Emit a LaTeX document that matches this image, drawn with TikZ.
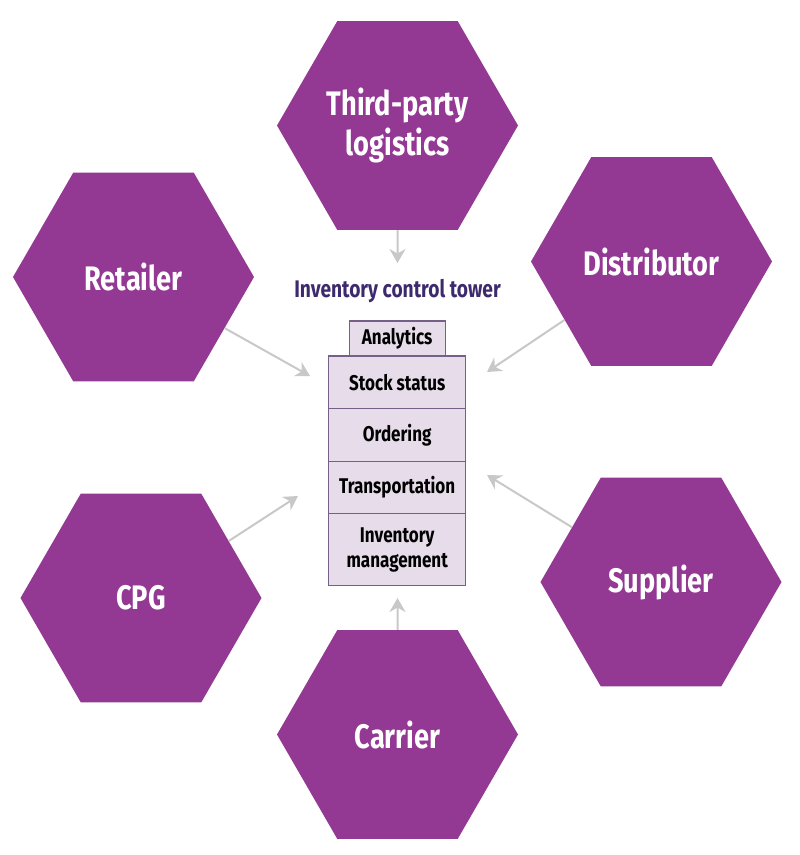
\documentclass[tikz,border=0pt]{standalone}
\usepackage{fontspec}
\setmainfont{Fira Sans}[FakeStretch=0.8]
\usetikzlibrary{shapes.geometric,arrows.meta}
\definecolor{hexfill}{HTML}{933893}
\definecolor{boxfill}{HTML}{E7DDEA}
\definecolor{boxline}{HTML}{76608A}
\definecolor{arrgray}{HTML}{C8C8C8}
\definecolor{titlecol}{HTML}{3D2A6E}
\begin{document}
\begin{tikzpicture}[x=1pt,y=-1pt,
  hexnode/.style={regular polygon, regular polygon sides=6, minimum size=241pt, inner sep=0pt,
    fill=hexfill, draw=none, text=white, align=center,
    font=\fontsize{34}{40}\selectfont\bfseries},
  towerbox/.style={rectangle, draw=boxline, line width=1.1pt, fill=boxfill, inner sep=0pt,
    minimum width=137pt, align=center, font=\fontsize{21.3}{25}\selectfont\bfseries},
  arr/.style={draw=arrgray, line width=2pt, -{Stealth[length=14pt,width=16pt]}, color=arrgray}
]
\useasboundingbox (0,0) rectangle (800,855);

% hexagons
\node[hexnode] (tpl) at (397.5,125.5) {Third-party\\logistics};
\node[hexnode] (ret) at (133.5,277) {Retailer};
\node[hexnode] (dis) at (651.5,261.5) {Distributor};
\node[hexnode] (cpg) at (141,598) {CPG};
\node[hexnode] (sup) at (661,582) {Supplier};
\node[hexnode] (car) at (397.5,734.5) {Carrier};

% title
\node[text=titlecol, font=\fontsize{24}{28}\selectfont\bfseries] (title) at (397.5,291) {Inventory control tower};

% tower
\node[towerbox, minimum width=95.7pt, minimum height=35pt] (ana) at (397.2,338.5) {Analytics};
\node[towerbox, minimum height=52.7pt] (stk) at (397.2,382.35) {Stock status};
\node[towerbox, minimum height=52.6pt] (ord) at (397.2,435) {Ordering};
\node[towerbox, minimum height=52.4pt] (tra) at (397.2,487.5) {Transportation};
\node[towerbox, minimum height=71.6pt] (inv) at (397.2,549.5) {Inventory\\management};

% arrow tips
\coordinate (tTpl) at (397.5,263);
\coordinate (tRet) at (310,376);
\coordinate (tDis) at (487,372);
\coordinate (tCpg) at (298,496);
\coordinate (tSup) at (487,475);
\coordinate (tCar) at (397.5,598);

\draw[arr] (tpl) -- (tTpl);
\draw[arr] (ret) -- (tRet);
\draw[arr] (dis) -- (tDis);
\draw[arr] (cpg) -- (tCpg);
\draw[arr] (sup) -- (tSup);
\draw[arr] (car) -- (tCar);
\end{tikzpicture}
\end{document}
